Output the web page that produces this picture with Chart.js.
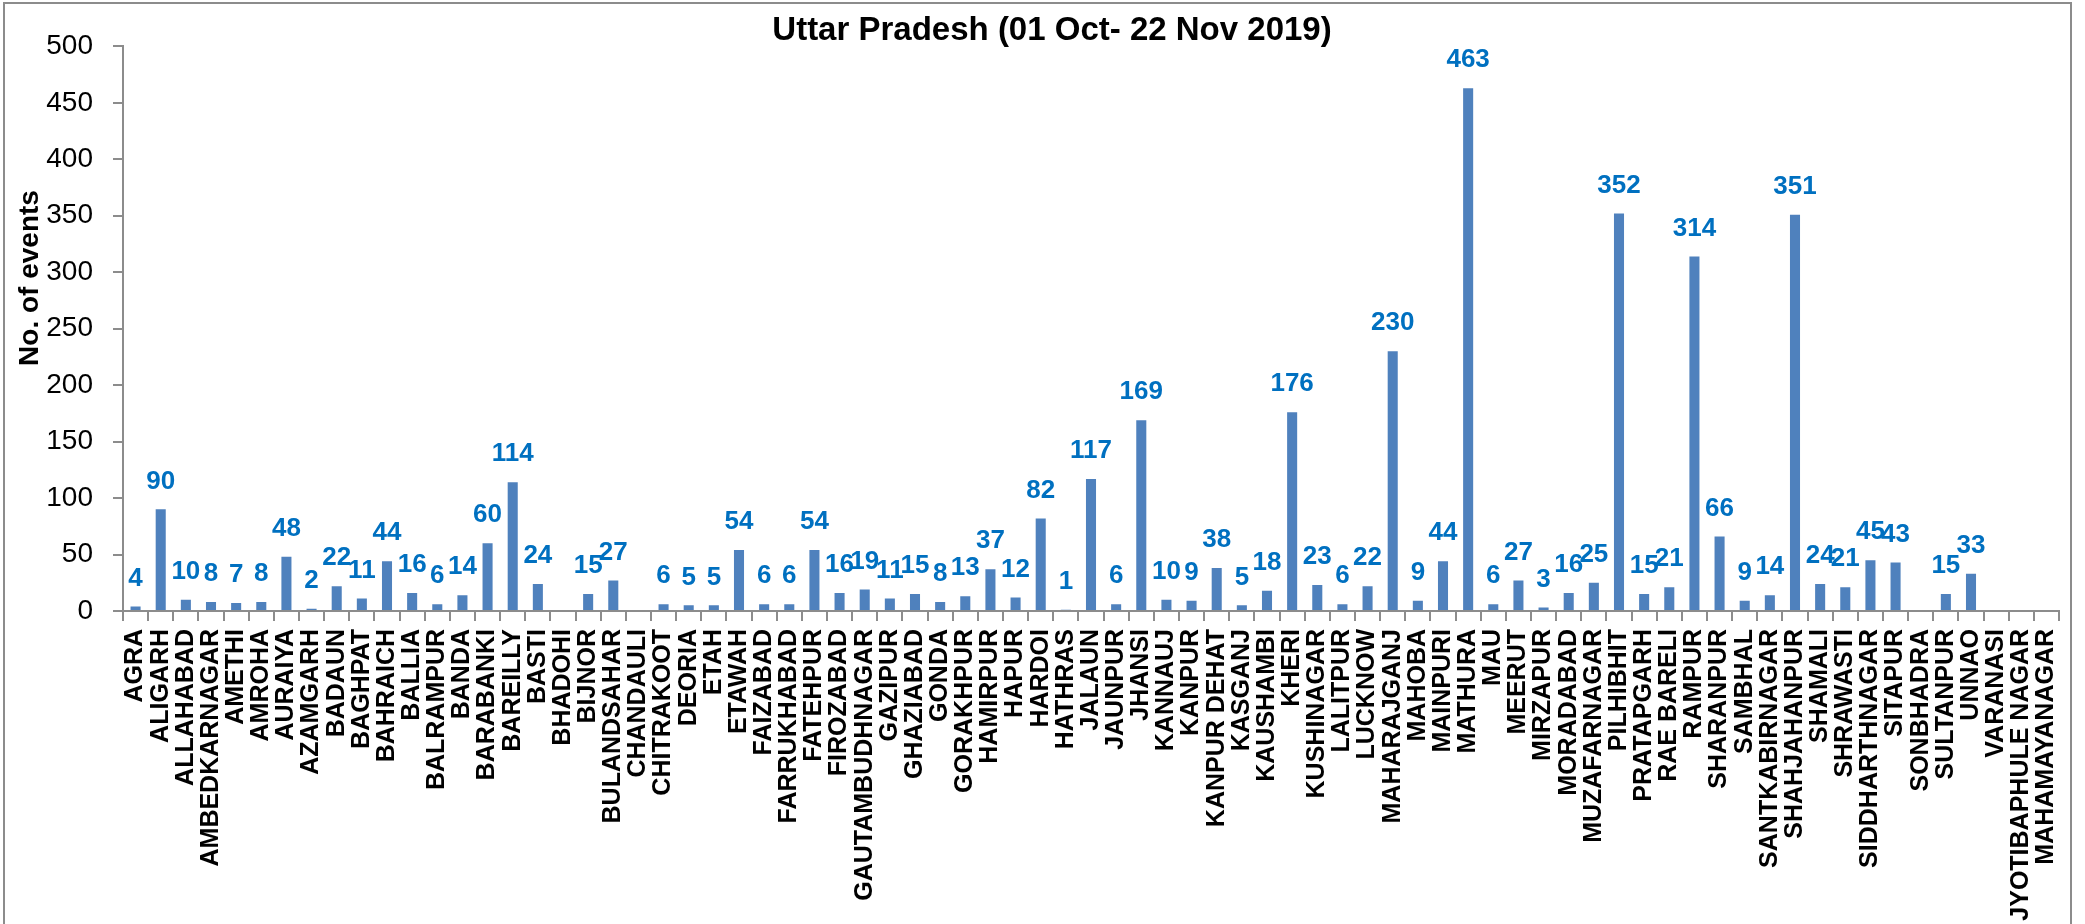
<!DOCTYPE html>
<html>
<head>
<meta charset="utf-8">
<script src="https://cdn.jsdelivr.net/npm/chart.js@4.4.1/dist/chart.umd.min.js"></script>
<style>
  html, body { margin: 0; padding: 0; background: #ffffff; overflow: hidden; }
  #wrap { position: absolute; left: 0; top: 0; width: 2085px; height: 924px; }
</style>
</head>
<body>
<div id="wrap"><canvas id="c" width="2085" height="924"></canvas></div>
<script>
const chartTitle = 'Uttar Pradesh (01 Oct- 22 Nov 2019)';
const yAxisTitle = 'No. of events';

const districts = [
  'AGRA','ALIGARH','ALLAHABAD','AMBEDKARNAGAR','AMETHI','AMROHA','AURAIYA','AZAMGARH',
  'BADAUN','BAGHPAT','BAHRAICH','BALLIA','BALRAMPUR','BANDA','BARABANKI','BAREILLY',
  'BASTI','BHADOHI','BIJNOR','BULANDSAHAR','CHANDAULI','CHITRAKOOT','DEORIA','ETAH',
  'ETAWAH','FAIZABAD','FARRUKHABAD','FATEHPUR','FIROZABAD','GAUTAMBUDHNAGAR','GAZIPUR',
  'GHAZIABAD','GONDA','GORAKHPUR','HAMIRPUR','HAPUR','HARDOI','HATHRAS','JALAUN',
  'JAUNPUR','JHANSI','KANNAUJ','KANPUR','KANPUR DEHAT','KASGANJ','KAUSHAMBI','KHERI',
  'KUSHINAGAR','LALITPUR','LUCKNOW','MAHARAJGANJ','MAHOBA','MAINPURI','MATHURA','MAU',
  'MEERUT','MIRZAPUR','MORADABAD','MUZAFARNAGAR','PILHIBHIT','PRATAPGARH','RAE BARELI',
  'RAMPUR','SHARANPUR','SAMBHAL','SANTKABIRNAGAR','SHAHJAHANPUR','SHAMALI','SHRAWASTI',
  'SIDDHARTHNAGAR','SITAPUR','SONBHADRA','SULTANPUR','UNNAO','VARANASI',
  'JYOTIBAPHULE NAGAR','MAHAMAYANAGAR'
];

const events = [
  4, 90, 10, 8, 7, 8, 48, 2,
  22, 11, 44, 16, 6, 14, 60, 114,
  24, null, 15, 27, null, 6, 5, 5,
  54, 6, 6, 54, 16, 19, 11,
  15, 8, 13, 37, 12, 82, 1, 117,
  6, 169, 10, 9, 38, 5, 18, 176,
  23, 6, 22, 230, 9, 44, 463, 6,
  27, 3, 16, 25, 352, 15, 21,
  314, 66, 9, 14, 351, 24, 21,
  45, 43, null, 15, 33, null,
  null, null
];

const yTicks = [0, 50, 100, 150, 200, 250, 300, 350, 400, 450, 500];

const FONT = "'Liberation Sans', Arial, sans-serif";
const AXIS_GREY = '#8c8c8c';

const borderPlugin = {
  id: 'outerBorder',
  beforeDraw(chart) {
    const ctx = chart.ctx;
    ctx.save();
    ctx.fillStyle = '#ffffff';
    ctx.fillRect(0, 0, chart.width, chart.height);
    ctx.strokeStyle = AXIS_GREY;
    ctx.lineWidth = 2;
    ctx.strokeRect(4, 3, 2067, 940);
    ctx.restore();
  }
};

const valueLabelPlugin = {
  id: 'valueLabels',
  afterDatasetsDraw(chart) {
    const ctx = chart.ctx;
    const meta = chart.getDatasetMeta(0);
    const data = chart.data.datasets[0].data;
    ctx.save();
    ctx.font = "bold 26px " + FONT;
    ctx.fillStyle = '#0070C0';
    ctx.textAlign = 'center';
    ctx.textBaseline = 'middle';
    meta.data.forEach((bar, i) => {
      const v = data[i];
      if (v === null || v === undefined) return;
      ctx.fillText(String(v), bar.x, bar.y - 28);
    });
    ctx.restore();
  }
};

const yTitlePlugin = {
  id: 'yTitle',
  afterDraw(chart) {
    const ctx = chart.ctx;
    ctx.save();
    ctx.translate(30, 278);
    ctx.rotate(-Math.PI / 2);
    ctx.font = "bold 28px " + FONT;
    ctx.fillStyle = '#000000';
    ctx.textAlign = 'center';
    ctx.textBaseline = 'middle';
    ctx.fillText(yAxisTitle, 0, 0);
    ctx.restore();
  }
};

new Chart(document.getElementById('c'), {
  type: 'bar',
  data: {
    labels: districts,
    datasets: [{
      data: events,
      backgroundColor: '#4F81BD',
      borderWidth: 0,
      categoryPercentage: 1.0,
      barPercentage: 0.4
    }]
  },
  options: {
    responsive: false,
    animation: false,
    devicePixelRatio: 1,
    layout: { padding: { left: 45, right: 26, top: 0, bottom: 0 } },
    plugins: {
      legend: { display: false },
      tooltip: { enabled: false },
      title: {
        display: true,
        text: chartTitle,
        color: '#000000',
        font: { family: FONT, size: 33, weight: 'bold', lineHeight: 0.8 },
        padding: { top: 18, bottom: 2 }
      }
    },
    scales: {
      x: {
        offset: true,
        grid: {
          offset: true,
          drawOnChartArea: false,
          drawTicks: true,
          tickLength: 10,
          color: AXIS_GREY,
          lineWidth: 2
        },
        border: { display: true, color: AXIS_GREY, width: 2 },
        ticks: {
          autoSkip: false,
          maxRotation: 90,
          minRotation: 90,
          padding: 8,
          color: '#000000',
          font: { family: FONT, size: 25, weight: 'bold' }
        },
        afterFit(scale) { scale.height = 313; }
      },
      y: {
        min: 0,
        max: 500,
        afterBuildTicks(scale) { scale.ticks = yTicks.map(v => ({ value: v })); },
        grid: {
          drawOnChartArea: false,
          drawTicks: true,
          tickLength: 10,
          color: AXIS_GREY,
          lineWidth: 2
        },
        border: { display: true, color: AXIS_GREY, width: 2 },
        ticks: {
          padding: 20,
          color: '#000000',
          font: { family: FONT, size: 28 }
        },
        afterFit(scale) { scale.width = 78; }
      }
    }
  },
  plugins: [borderPlugin, valueLabelPlugin, yTitlePlugin]
});
</script>
</body>
</html>
